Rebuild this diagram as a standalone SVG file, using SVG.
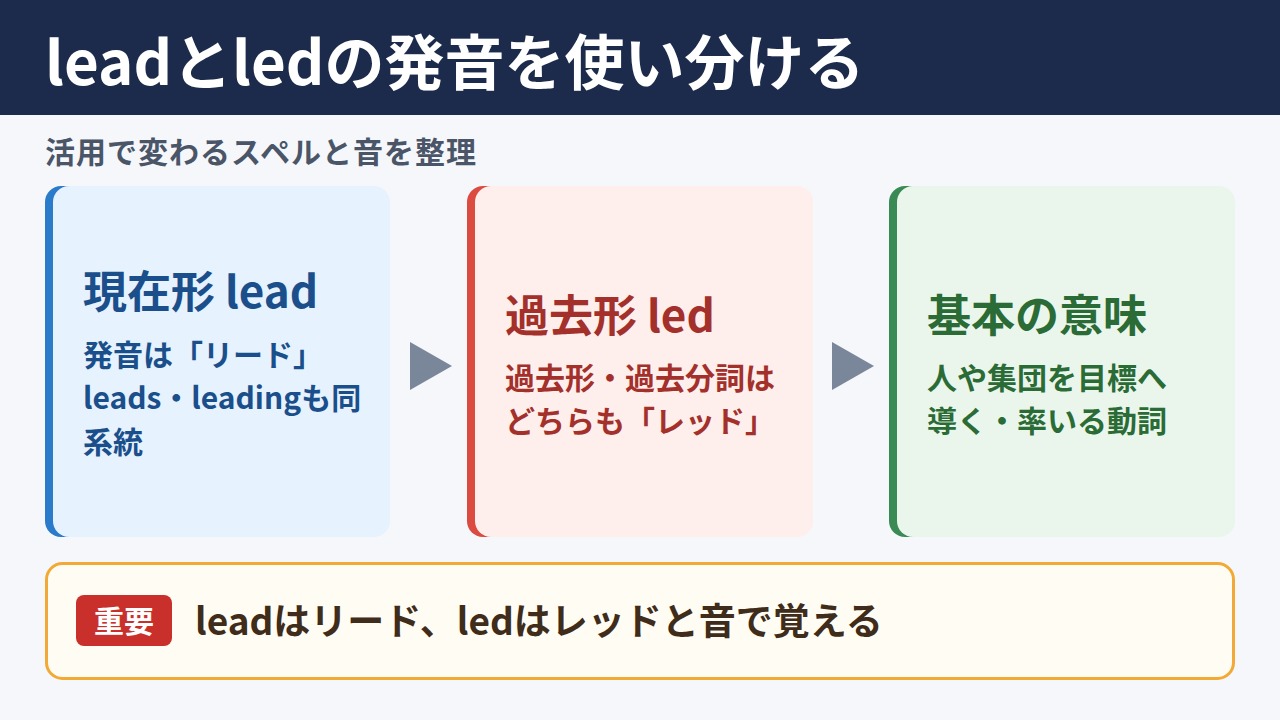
<svg xmlns="http://www.w3.org/2000/svg" width="1280" height="720" viewBox="0 0 1280 720">
<style>
text{font-family:"Noto Sans CJK JP","Noto Sans",sans-serif;font-weight:700}
.title{fill:#ffffff;font-size:60px}
.sub{fill:#4a5568;font-size:30px;letter-spacing:1px}
.h{font-size:44px}
.b{font-size:30px}
.blue{fill:#1a4f8b}
.red{fill:#a3302a}
.green{fill:#2a6b36}
.arrow{fill:#7a8699}
</style>
<rect x="0" y="0" width="1280" height="720" fill="#f5f7fb"/>
<g id="header">
<rect x="0" y="0" width="1280" height="115" fill="#1c2b4b"/>
<text class="title" x="45" y="85">leadとledの発音を使い分ける</text>
</g>
<g id="subtitle">
<text class="sub" x="45" y="163">活用で変わるスペルと音を整理</text>
</g>
<g id="card1">
<rect x="45" y="186" width="40" height="351" rx="16" fill="#2a7bc9"/>
<rect x="53" y="186" width="337" height="351" rx="16" fill="#e6f2fe"/>
<text class="h blue" x="83" y="308">現在形 lead</text>
<text class="b blue" x="83" y="366">発音は「リード」</text>
<text class="b blue" x="83" y="409">leads・leadingも同</text>
<text class="b blue" x="83" y="453">系統</text>
</g>
<g id="card2">
<rect x="467" y="186" width="40" height="351" rx="16" fill="#dc4b3f"/>
<rect x="475" y="186" width="338" height="351" rx="16" fill="#feeeec"/>
<text class="h red" x="505" y="332">過去形 led</text>
<text class="b red" x="505" y="389">過去形・過去分詞は</text>
<text class="b red" x="505" y="432">どちらも「レッド」</text>
</g>
<g id="card3">
<rect x="889" y="186" width="40" height="351" rx="16" fill="#3a8a55"/>
<rect x="897" y="186" width="338" height="351" rx="16" fill="#eaf6ec"/>
<text class="h green" x="927" y="332">基本の意味</text>
<text class="b green" x="927" y="389">人や集団を目標へ</text>
<text class="b green" x="927" y="432">導く・率いる動詞</text>
</g>
<g id="connectors">
<polygon class="arrow" points="410,342 452,366 410,390"/>
<polygon class="arrow" points="832,342 874,366 832,390"/>
</g>
<g id="note">
<rect x="46.5" y="563.5" width="1187" height="115" rx="16" fill="#fffdf3" stroke="#f2a935" stroke-width="3"/>
<rect x="76" y="595" width="96" height="51" rx="8" fill="#c9302b"/>
<text x="124" y="632" text-anchor="middle" font-size="30" fill="#ffffff">重要</text>
<text x="195" y="635" font-size="37" fill="#3f2c1a">leadはリード、ledはレッドと音で覚える</text>
</g>
</svg>
